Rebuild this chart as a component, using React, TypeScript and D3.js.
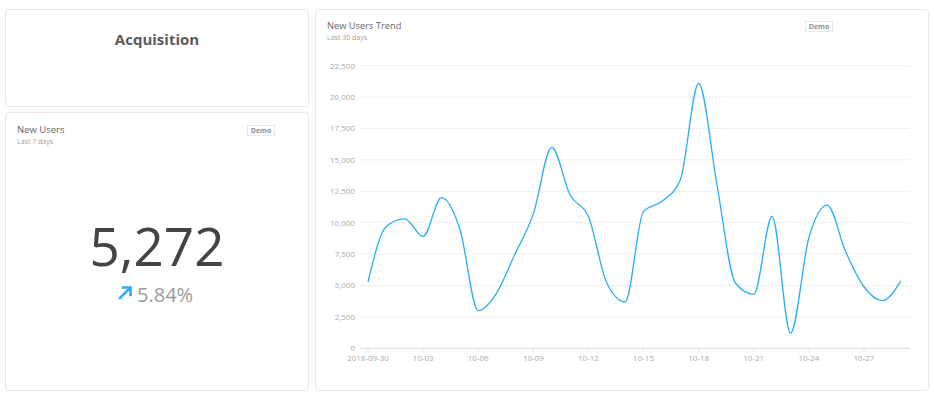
import React from 'react'
import * as d3 from 'd3'

// daily new users, 2018-09-30 .. 2018-10-29
const days = d3.timeDay.range(new Date(2018, 8, 30), new Date(2018, 9, 30))
const newUsers = [
  5300, 9700, 10300, 8900, 12000, 9500, 3000, 4400, 7500, 10700,
  16000, 12200, 10500, 5200, 3700, 10900, 11700, 13400, 21100, 13000,
  5200, 4300, 10500, 1200, 8800, 11400, 7700, 4900, 3800, 5350,
]
const yTicks = [0, 2500, 5000, 7500, 10000, 12500, 15000, 17500, 20000, 22500]
const xTickDays = days.filter((_, i) => i % 3 === 0)

const kpiValue = 5272
const kpiChange = 5.84

const FONT = '"Open Sans", "Noto Sans", sans-serif'
const BLUE = '#29aef2'

function Card({ x, y, w, h }: { x: number; y: number; w: number; h: number }) {
  return (
    <rect x={x + 0.5} y={y + 0.5} width={w} height={h} rx={3}
      fill="#fff" stroke="#e4e9f2" />
  )
}

function Demo({ x, y }: { x: number; y: number }) {
  return (
    <g transform={`translate(${x},${y})`}>
      <rect x={0.5} y={0.5} width={27} height={10} fill="#fff" stroke="#e6e9ef" />
      <text x={14} y={8} textAnchor="middle" fontSize={7} fontWeight={700} fill="#8a8f99">Demo</text>
    </g>
  )
}

export default function App() {
  const x = d3.scaleTime().domain([days[0], days[days.length - 1]]).range([368, 900.7])
  const y = d3.scaleLinear().domain([0, 22500]).range([348.3, 65.7])
  const line = d3.line<number>()
    .x((_, i) => x(days[i]))
    .y(d => y(d))
    .curve(d3.curveMonotoneX)
  const fmtX = (d: Date, i: number) => i === 0 ? d3.timeFormat('%Y-%m-%d')(d) : d3.timeFormat('%m-%d')(d)

  return (
    <div style={{ position: 'absolute', left: 0, top: 0, width: 934, height: 395, background: '#fff' }}>
      <svg width={934} height={395} style={{ fontFamily: FONT, display: 'block' }}>
        <rect width={934} height={395} fill="#fff" />

        {/* Acquisition header */}
        <Card x={5} y={9} w={303} h={97} />
        <text x={157} y={45} textAnchor="middle" fontSize={15} fontWeight={700} fill="#5b5b5b">Acquisition</text>

        {/* KPI card */}
        <Card x={5} y={112} w={303} h={278} />
        <text x={17} y={133} fontSize={9.5} fill="#666">New Users</text>
        <text x={17} y={144} fontSize={7} fill="#a0a0a0">Last 7 days</text>
        <Demo x={247} y={125} />
        <text x={157} y={266} textAnchor="middle" fontSize={53} fill="#444">{d3.format(',')(kpiValue)}</text>
        <g stroke={BLUE} strokeWidth={2.6} fill="none" strokeLinecap="square">
          <path d="M120,298 L130,288" />
          <path d="M123,287.5 L130.5,287.5 L130.5,295" />
        </g>
        <text x={137} y={302} fontSize={20} fill="#9a9a9a">{kpiChange.toFixed(2)}%</text>

        {/* trend card */}
        <Card x={315} y={9} w={613} h={381} />
        <text x={327} y={29} fontSize={9.3} fill="#666">New Users Trend</text>
        <text x={327} y={40} fontSize={7} fill="#a0a0a0">Last 30 days</text>
        <Demo x={805} y={21} />

        <g fontSize={8} fill="#aaa">
          {yTicks.map(t => (
            <g key={t}>
              {t > 0 && <line x1={360} x2={910} y1={y(t)} y2={y(t)} stroke="#efefef" />}
              <text x={355} y={y(t)} dy="0.35em" textAnchor="end">{d3.format(',')(t)}</text>
            </g>
          ))}
        </g>
        <line x1={360} x2={910} y1={y(0)} y2={y(0)} stroke="#dedede" strokeWidth={1.2} />
        <g fontSize={8} fill="#aaa">
          {xTickDays.map((d, i) => (
            <g key={i}>
              <line x1={x(d)} x2={x(d)} y1={y(0)} y2={y(0) + 4} stroke="#dedede" />
              <text x={x(d)} y={361} textAnchor="middle">{fmtX(d, i)}</text>
            </g>
          ))}
        </g>

        <path d={line(newUsers) ?? ''} fill="none" stroke={BLUE} strokeWidth={1.3} />
      </svg>
    </div>
  )
}
